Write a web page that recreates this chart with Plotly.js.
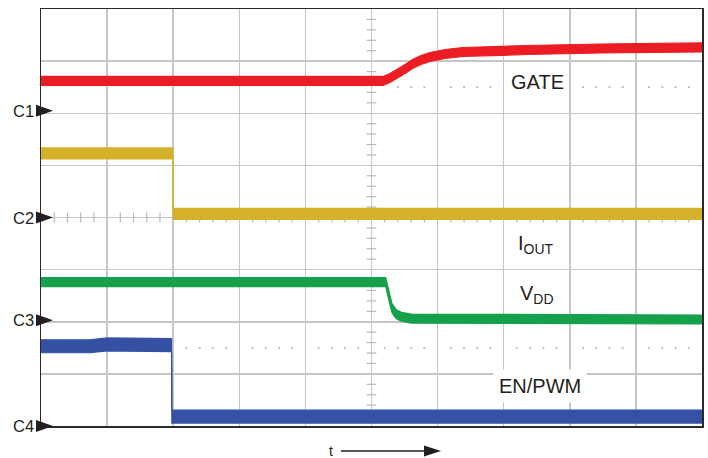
<!DOCTYPE html>
<html><head><meta charset="utf-8">
<script src="https://cdn.plot.ly/plotly-3.0.1.min.js"></script>
<style>html,body{margin:0;padding:0;background:#fff;}#chart{width:708px;height:458px;}</style>
</head><body><div id="chart"></div>
<script>
// Time in horizontal divisions (0..10), amplitude in vertical divisions (0..8)
const gateT = [0, 5.174, 5.28, 5.386, 5.507, 5.628, 5.749, 5.885, 6.112, 6.384, 6.793, 7.352, 8.457, 10];
const gateV = [6.62, 6.62, 6.676, 6.753, 6.849, 6.95, 7.022, 7.079, 7.137, 7.175, 7.194, 7.213, 7.242, 7.262];
const ioutT = [0, 1.995, 2.0, 10];
const ioutV = [5.23, 5.23, 4.07, 4.07];
const vddT = [0, 5.215, 5.25, 5.31, 5.37, 5.45, 5.6, 10];
const vddV = [2.76, 2.763, 2.571, 2.26, 2.15, 2.095, 2.06, 2.043];
const enT = [0, 0.74, 1.0, 1.975, 1.98, 10];
const enV = [1.53, 1.53, 1.565, 1.55, 0.18, 0.18];

const seriesNames = ['GATE', 'I<sub>OUT</sub>', 'V<sub>DD</sub>', 'EN/PWM'];
const labelT = [7.51, 7.49, 7.51, 7.55];
const labelV = [6.6, 3.49, 2.53, 0.76];
const channelNames = ['C1', 'C2', 'C3', 'C4'];
const channelLevels = [6.05, 4.0, 2.03, 0];
const timeLabel = 't';

// styles
const colors = ['#ec1c24', '#d5b02a', '#15a04b', '#3451a3'];
const halfPx = [4.5, 5.5, 4.5, 6.5];
const PLOT_W = 661, PLOT_H = 417, L = 41, T = 9;
const Y_MAX = 8;
const divPerPxY = Y_MAX / PLOT_H;
const FONT = 'Liberation Sans, Arial, Helvetica, sans-serif';
const TXT = '#231f20';

const series = [[gateT, gateV], [ioutT, ioutV], [vddT, vddV], [enT, enV]];
const traces = [];

// graticule minor ticks on centre lines and dotted reference rows
const tickY = [], tickX = [];
for (let k = 0; k <= 40; k++) if (k % 5) tickY.push(k * 0.2);
for (let k = 0; k <= 50; k++) if (k % 5) tickX.push(k * 0.2);
traces.push({x: tickY.map(() => 5), y: tickY, mode: 'markers', hoverinfo: 'skip',
  marker: {symbol: 'line-ew', size: 7, line: {width: 1.2, color: '#b8b8b8'}}});
traces.push({x: tickX, y: tickX.map(() => 4), mode: 'markers', hoverinfo: 'skip',
  marker: {symbol: 'line-ns', size: 7, line: {width: 1.2, color: '#b8b8b8'}}});
const dotRows = [[6.5, 5.4], [1.5, 2.2]];
dotRows.forEach(([yy, start]) => {
  const xs = tickX.filter(v => v >= start - 1e-9);
  traces.push({x: xs, y: xs.map(() => yy), mode: 'markers', hoverinfo: 'skip',
    marker: {symbol: 'circle', size: 2.3, color: '#bdbdbd'}});
});

series.forEach(([t, v], i) => {
  const h = halfPx[i] * divPerPxY;
  traces.push({x: t, y: v.map(a => a - h), mode: 'lines', hoverinfo: 'skip',
    line: {color: colors[i], width: 1.2}});
  traces.push({x: t, y: v.map(a => a + h), mode: 'lines', hoverinfo: 'skip',
    fill: 'tonexty', fillcolor: colors[i], line: {color: colors[i], width: 1.2}});
});

const annotations = [];
seriesNames.forEach((n, i) => {
  const a = {x: labelT[i], y: labelV[i], xref: 'x', yref: 'y', text: n, showarrow: false,
    xanchor: 'center', yanchor: 'middle', font: {family: FONT, size: 20, color: TXT}};
  if (i === 3) { a.bgcolor = '#ffffff'; a.borderpad = 5; }
  annotations.push(a);
});
channelNames.forEach((n, i) => {
  annotations.push({x: 0, y: channelLevels[i] / Y_MAX, xref: 'paper', yref: 'paper', text: n, showarrow: false,
    xanchor: 'right', yanchor: 'middle', xshift: -5, font: {family: FONT, size: 16.5, color: TXT}});
});
// pixel -> paper helper for decorations below the plot
const px = x => (x - L) / PLOT_W;
const py = y => (T + PLOT_H - y) / PLOT_H;
annotations.push({x: px(331), y: py(451), xref: 'paper', yref: 'paper', text: timeLabel, showarrow: false,
  xanchor: 'center', yanchor: 'middle', font: {family: FONT, size: 14, color: TXT}});

const shapes = [];
channelLevels.forEach(lv => {
  shapes.push({type: 'path', xref: 'paper', yref: 'paper', xsizemode: 'pixel', ysizemode: 'pixel',
    xanchor: 0, yanchor: lv / Y_MAX, path: 'M -5 -6 L 12 0 L -5 6 Z',
    fillcolor: TXT, line: {width: 0}});
});
shapes.push({type: 'line', xref: 'paper', yref: 'paper', x0: px(341), x1: px(427), y0: py(451), y1: py(451),
  line: {color: TXT, width: 1.5}});
shapes.push({type: 'path', xref: 'paper', yref: 'paper',
  path: `M ${px(424)} ${py(445.5)} L ${px(441)} ${py(451)} L ${px(424)} ${py(456.5)} Z`,
  fillcolor: TXT, line: {width: 0}});

const axBase = {showgrid: true, gridcolor: '#c6c6c6', gridwidth: 1.5, zeroline: false,
  showticklabels: false, ticks: '', showline: true, mirror: true, linecolor: '#2a2a2a', linewidth: 1.5,
  fixedrange: true};
const layout = {
  width: 708, height: 458,
  margin: {l: L, r: 708 - L - PLOT_W, t: T, b: 458 - T - PLOT_H, pad: 0},
  paper_bgcolor: '#ffffff', plot_bgcolor: '#ffffff', showlegend: false,
  xaxis: Object.assign({}, axBase, {range: [0, 10], dtick: 1, tick0: 0}),
  yaxis: Object.assign({}, axBase, {range: [0, Y_MAX], dtick: 1, tick0: 0}),
  annotations, shapes
};
Plotly.newPlot('chart', traces, layout, {displayModeBar: false, staticPlot: true});
</script></body></html>
